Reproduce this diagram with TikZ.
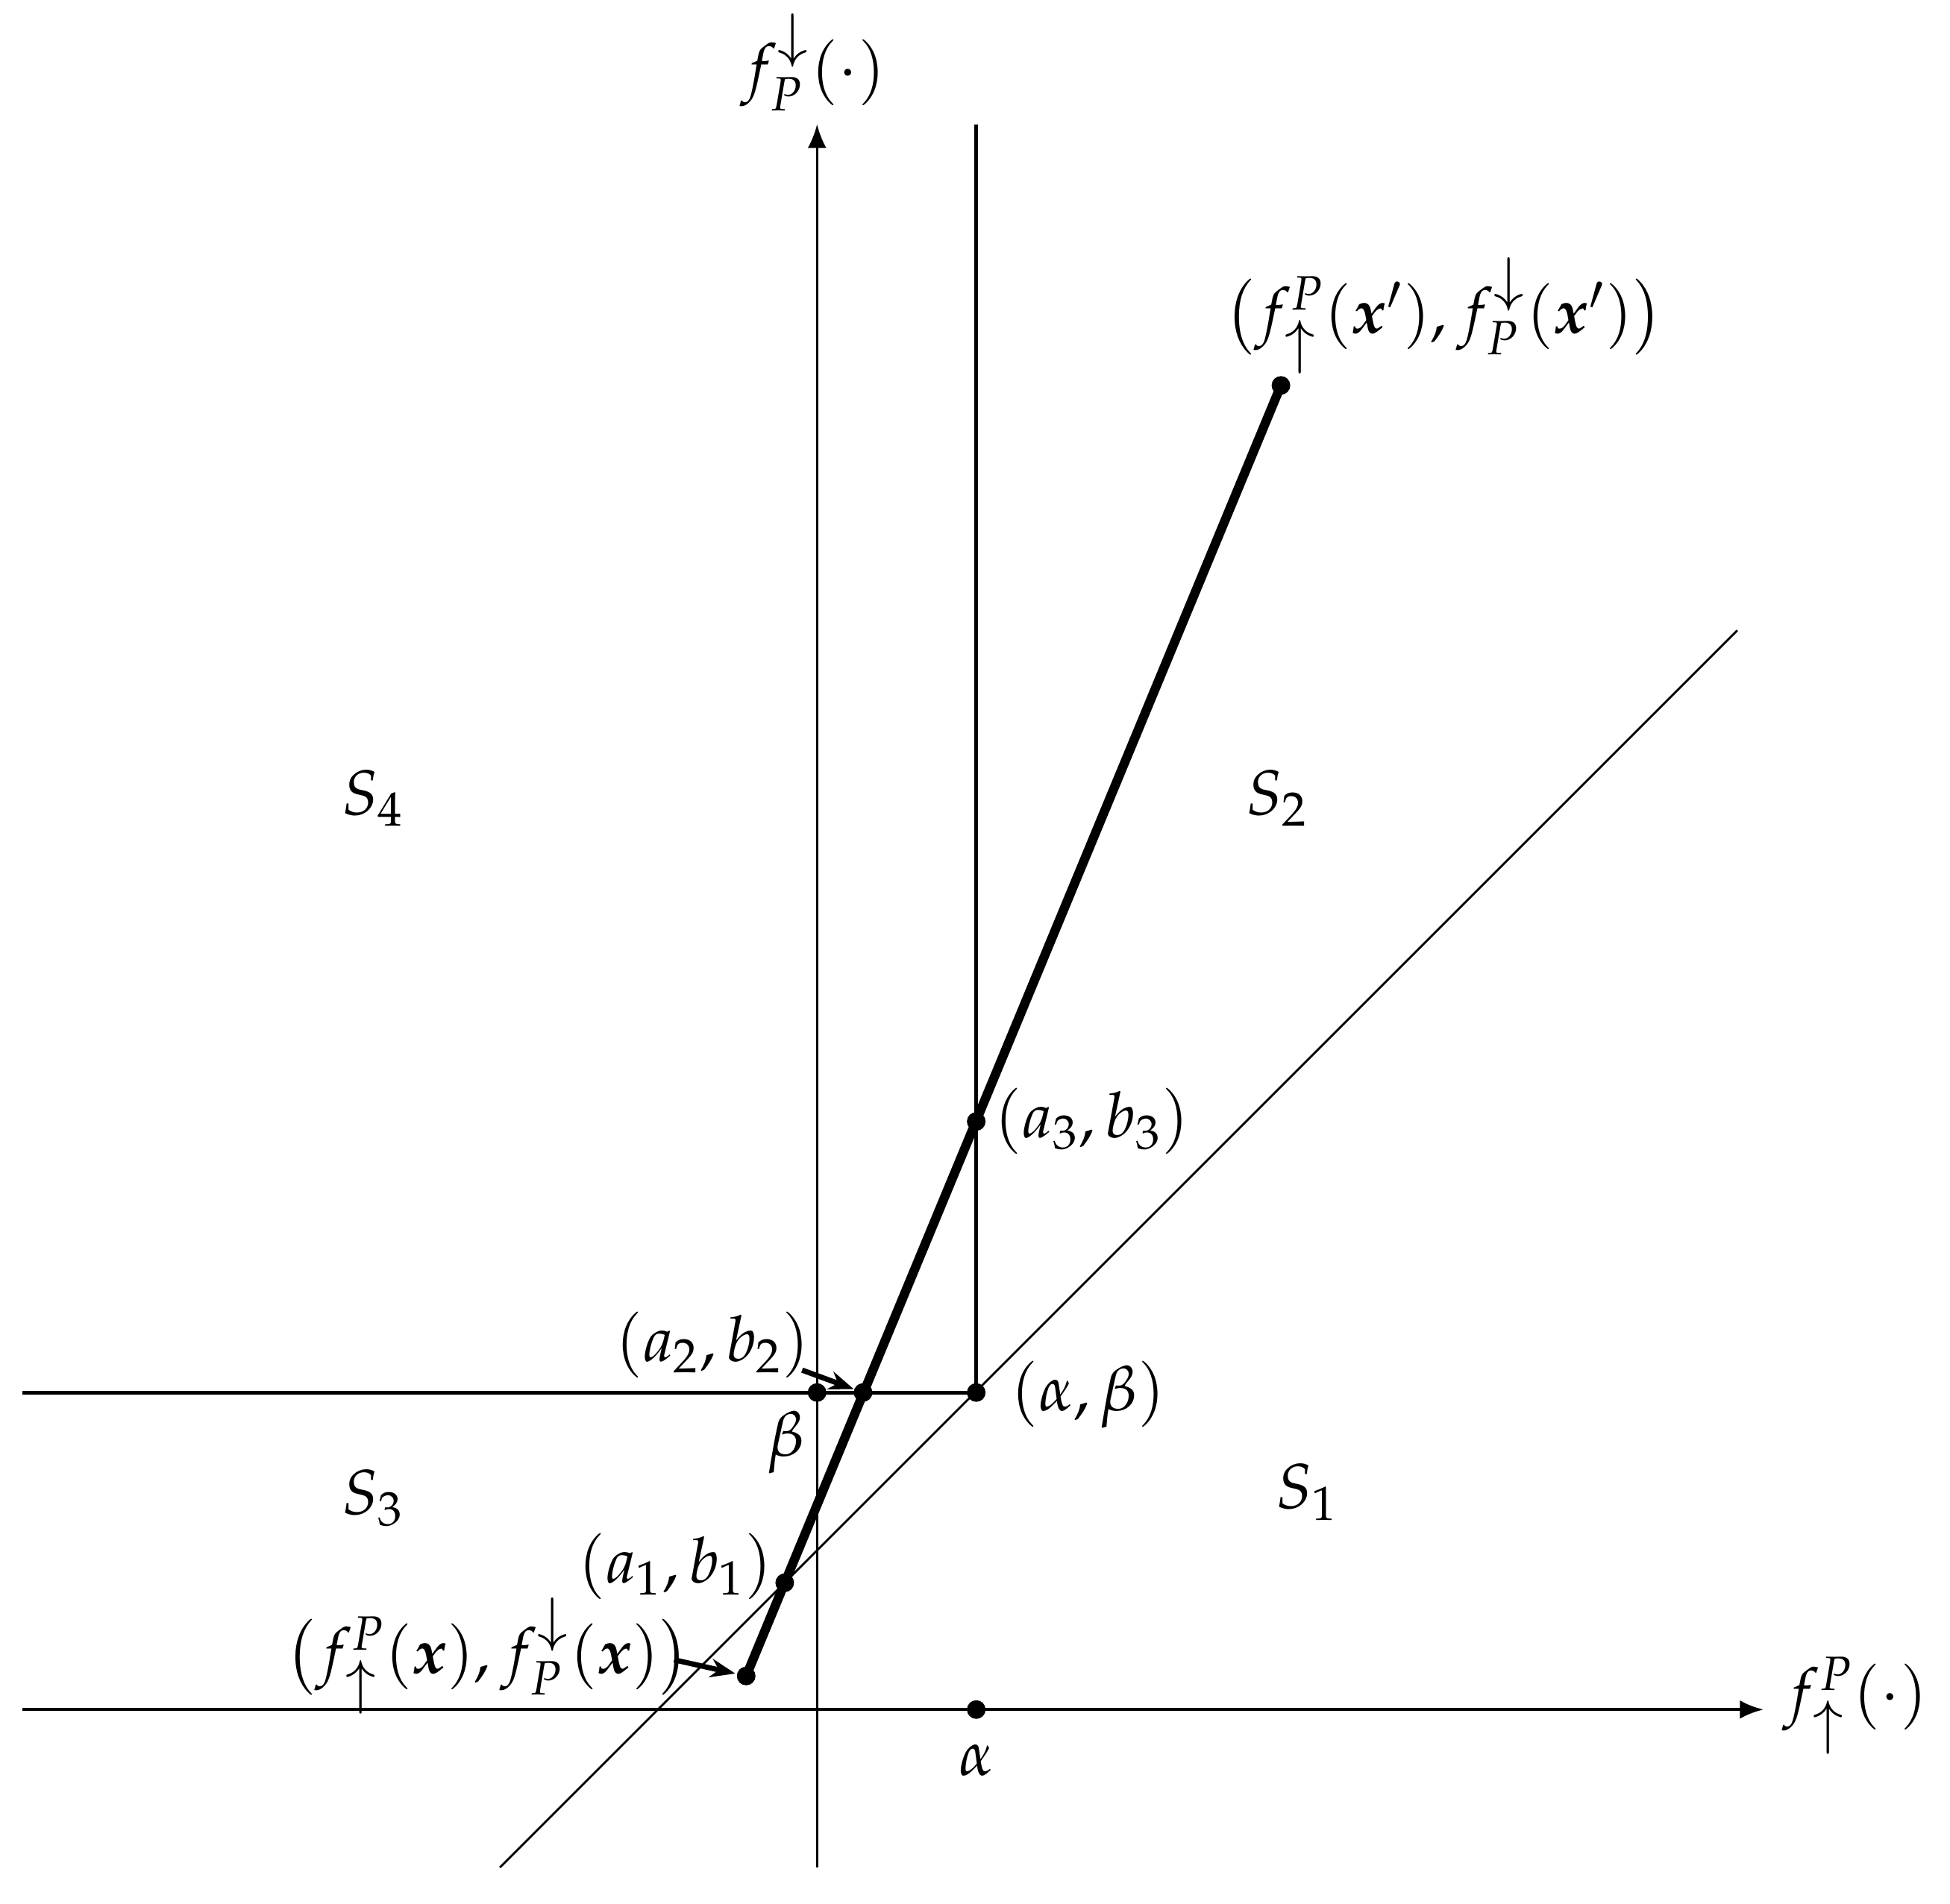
\documentclass[tikz,border=0pt]{standalone}
\usepackage{amsmath}
\usepackage{mathpazo}
\usepackage{bm}
\usetikzlibrary{arrows.meta}
\newcommand{\myup}{\mathord{\raisebox{2.2pt}{\scalebox{1.2}{$\scriptstyle\uparrow$}}}}
\newcommand{\mydown}{\mathord{\scalebox{1.2}{$\scriptstyle\downarrow$}}}
\begin{document}
\begin{tikzpicture}[x=0.1mm,y=-0.1mm,
  font=\fontsize{14.5}{17.5}\selectfont,
  thinln/.style={line width=0.5pt},
  medln/.style={line width=0.9pt},
  axisln/.style={line width=0.7pt,-{Latex[length=1.9mm,width=1.5mm]}},
  heavy/.style={line width=2.1pt},
  ptr/.style={line width=1.2pt,-{Stealth[length=2mm,width=1.5mm]}},
  dot/.style={circle,fill=black,inner sep=0pt,minimum size=1.5mm},
  lbl/.style={inner sep=0pt,anchor=center}]
\useasboundingbox (0,0) rectangle (1568,1531);
% coordinates
\coordinate (xl) at (18,1375);
\coordinate (xr) at (1418,1375);
\coordinate (yb) at (657,1502);
\coordinate (yt) at (657,100);
\coordinate (vt) at (785,100);
\coordinate (ab) at (785,1120);
\coordinate (hl) at (18,1120);
\coordinate (dl) at (402,1502);
\coordinate (dr) at (1397,507);
\coordinate (p0) at (600,1348);
\coordinate (p1) at (631,1273);
\coordinate (p2) at (694,1120);
\coordinate (p3) at (785,902);
\coordinate (p4) at (1030,310);
\coordinate (pb) at (657,1120);
\coordinate (pa) at (785,1375);
% lines
\draw[axisln] (xl) -- (xr);
\draw[axisln,line width=0.5pt] (yb) -- (yt);
\draw[medln] (vt) -- (ab);
\draw[medln] (hl) -- (ab);
\draw[thinln] (dl) -- (dr);
\draw[heavy] (p0) -- (p4);
% dots
\node[dot] (d0) at (p0) {};
\node[dot] (d1) at (p1) {};
\node[dot] (d2) at (p2) {};
\node[dot] (d3) at (p3) {};
\node[dot] (d4) at (p4) {};
\node[dot] (db) at (pb) {};
\node[dot] (dab) at (ab) {};
\node[dot] (da) at (pa) {};
% labels
\node[lbl] (ly) at (654,50) {$f_P^{\mydown}(\cdot)$};
\node[lbl] (lx) at (1492,1372) {$f_{\myup}^{P}(\cdot)$};
\node[lbl] (lxp) at (1161,254) {$\bigl(f_{\myup}^{P}(\bm{x}'),f_P^{\mydown}(\bm{x}')\bigr)$};
\node[lbl] (lxx) at (392,1332) {$\bigl(f_{\myup}^{P}(\bm{x}),f_P^{\mydown}(\bm{x})\bigr)$};
\node[lbl] (l3) at (878,902) {$(a_3,b_3)$};
\node[lbl] (l2) at (573,1082) {$(a_2,b_2)$};
\node[lbl] (l1) at (543,1260) {$(a_1,b_1)$};
\node[lbl] (lab) at (875,1122) {$(\alpha,\beta)$};
\node[lbl] (lbeta) at (632,1160) {$\beta$};
\node[lbl] (lalpha) at (785,1416) {$\alpha$};
\node[lbl] (s4) at (300,642) {$S_4$};
\node[lbl] (s2) at (1027,642) {$S_2$};
\node[lbl] (s3) at (300,1205) {$S_3$};
\node[lbl] (s1) at (1051,1200) {$S_1$};
% pointer arrows
\coordinate (s2start) at (645,1102);
\coordinate (s0start) at (542,1335);
\draw[ptr,shorten >=0.8mm] (s2start) -- (d2.center);
\draw[ptr,shorten >=0.9mm] (s0start) -- (d0.center);
\end{tikzpicture}
\end{document}
